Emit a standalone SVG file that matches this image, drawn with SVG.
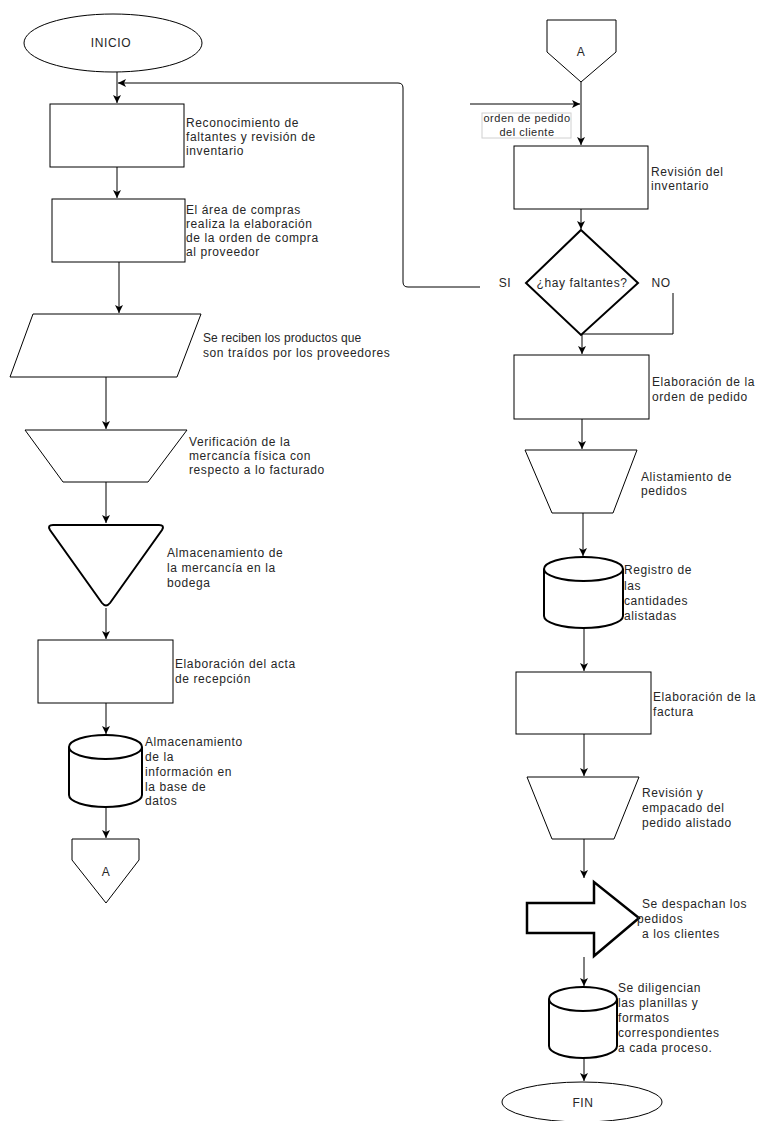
<svg xmlns="http://www.w3.org/2000/svg" width="757" height="1121" viewBox="0 0 757 1121">
<style>
.s{fill:#fff;stroke:#000;stroke-width:1}
.t{fill:#fff;stroke:#000;stroke-width:2}
.c{fill:none;stroke:#000;stroke-width:1}
text{font-family:"Liberation Sans",Arial,sans-serif;font-size:12px;fill:#262626;letter-spacing:0.6px}
.m{text-anchor:middle}
</style>
<defs>
<marker id="ah" markerUnits="userSpaceOnUse" markerWidth="10" markerHeight="10" refX="8" refY="4" orient="auto">
<path d="M0,0 L8,4 L0,8 L2,4 z" fill="#000"/>
</marker>
</defs>
<rect width="757" height="1121" fill="#fff"/>
<g id="connectors">
<path class="c" d="M117,72 V103" marker-end="url(#ah)"/>
<path class="c" d="M480,287 H408 Q403,287 403,282 V88 Q403,83 398,83 H118" marker-end="url(#ah)"/>
<path class="c" d="M117,167 V198" marker-end="url(#ah)"/>
<path class="c" d="M119,262 V313" marker-end="url(#ah)"/>
<path class="c" d="M106,377 V429" marker-end="url(#ah)"/>
<path class="c" d="M106,482 V523" marker-end="url(#ah)"/>
<path class="c" d="M106,608 V639" marker-end="url(#ah)"/>
<path class="c" d="M106,703 V734" marker-end="url(#ah)"/>
<path class="c" d="M106,807 V838" marker-end="url(#ah)"/>
<path class="c" d="M581,82 V145" marker-end="url(#ah)"/>
<path class="c" d="M470,104 H580" marker-end="url(#ah)"/>
<path class="c" d="M581,209 V229" marker-end="url(#ah)"/>
<path class="c" d="M673,293 V334 H581"/>
<path class="c" d="M582,335 V354" marker-end="url(#ah)"/>
<path class="c" d="M582,419 V449" marker-end="url(#ah)"/>
<path class="c" d="M583,513 V556" marker-end="url(#ah)"/>
<path class="c" d="M584,628 V671" marker-end="url(#ah)"/>
<path class="c" d="M584,734 V776" marker-end="url(#ah)"/>
<path class="c" d="M584,839 V878" marker-end="url(#ah)"/>
<path class="c" d="M584,957 V986" marker-end="url(#ah)"/>
<path class="c" d="M584,1058 V1081" marker-end="url(#ah)"/>
</g>
<g id="inicio">
<ellipse class="s" cx="113" cy="43" rx="89" ry="29"/>
<text class="m" x="111" y="47">INICIO</text>
</g>
<g id="reconocimiento">
<rect class="s" x="50" y="104" width="134" height="63"/>
<text x="186" y="127">Reconocimiento de</text>
<text x="186" y="141">faltantes y revisión de</text>
<text x="186" y="155">inventario</text>
</g>
<g id="orden-compra">
<rect class="s" x="52" y="199" width="133" height="63"/>
<text x="186" y="214">El área de compras</text>
<text x="186" y="228">realiza la elaboración</text>
<text x="186" y="242">de la orden de compra</text>
<text x="186" y="256">al proveedor</text>
</g>
<g id="recepcion-productos">
<path class="s" d="M33,314 L201,314 L177,377 L10,377 Z"/>
<text x="203" y="342" style="letter-spacing:0.1px">Se reciben los productos que</text>
<text x="203" y="357">son traídos por los proveedores</text>
</g>
<g id="verificacion">
<path class="s" d="M25,430 L187,430 L148,482 L63,482 Z"/>
<text x="189" y="446">Verificación de la</text>
<text x="189" y="460">mercancía física con</text>
<text x="189" y="474">respecto a lo facturado</text>
</g>
<g id="almacenamiento-mercancia">
<path class="t" d="M53,525 L159,525 Q165,525 162,530 L110,603 Q106,608 102,603 L50,530 Q47,525 53,525 Z"/>
<text x="167" y="557">Almacenamiento de</text>
<text x="167" y="572">la mercancía en la</text>
<text x="167" y="587">bodega</text>
</g>
<g id="acta-recepcion">
<rect class="s" x="38" y="640" width="135" height="63"/>
<text x="175" y="668">Elaboración del acta</text>
<text x="175" y="683">de recepción</text>
</g>
<g id="base-datos">
<path class="t" d="M69,747 A36.5,12 0 0 1 142,747 A36.5,12 0 0 1 69,747 L69,795 A36.5,12 0 0 0 142,795 L142,747"/>
<text x="145" y="746">Almacenamiento</text>
<text x="145" y="761">de la</text>
<text x="145" y="776">información en</text>
<text x="145" y="791">la base de</text>
<text x="145" y="805">datos</text>
</g>
<g id="conector-a-salida">
<path class="s" d="M72,839 L139,839 L139,860 L106,903 L72,860 Z"/>
<text class="m" x="106" y="876">A</text>
</g>
<g id="conector-a-entrada">
<path class="s" d="M547,20 L616,20 L616,52 L581,82 L547,52 Z"/>
<text class="m" x="581" y="56">A</text>
</g>
<g id="orden-pedido-cliente">
<rect x="482" y="113" width="89" height="25" fill="#fff" stroke="#d0d0d0" stroke-width="1"/>
<text class="m" x="527" y="122" style="font-size:11px;letter-spacing:0.5px">orden de pedido</text>
<text class="m" x="527" y="136" style="font-size:11px;letter-spacing:0.5px">del cliente</text>
</g>
<g id="revision-inventario">
<rect class="s" x="514" y="146" width="134" height="63"/>
<text x="651" y="176">Revisión del</text>
<text x="651" y="190">inventario</text>
</g>
<g id="hay-faltantes">
<path class="t" d="M581,230 L638,283 L581,335 L526,283 Z"/>
<text class="m" x="582" y="287">¿hay faltantes?</text>
<text class="m" x="505" y="287">SI</text>
<text class="m" x="661" y="287">NO</text>
</g>
<g id="orden-pedido">
<rect class="s" x="514" y="355" width="135" height="64"/>
<text x="652" y="386">Elaboración de la</text>
<text x="652" y="401">orden de pedido</text>
</g>
<g id="alistamiento">
<path class="s" d="M525,450 L637,450 L613,513 L552,513 Z"/>
<text x="641" y="481">Alistamiento de</text>
<text x="641" y="495">pedidos</text>
</g>
<g id="registro-cantidades">
<path class="t" d="M544,569 A39.5,12 0 0 1 623,569 A39.5,12 0 0 1 544,569 L544,616 A39.5,12 0 0 0 623,616 L623,569"/>
<text x="624" y="574">Registro de</text>
<text x="624" y="590">las</text>
<text x="624" y="605">cantidades</text>
<text x="624" y="620">alistadas</text>
</g>
<g id="factura">
<rect class="s" x="516" y="672" width="135" height="62"/>
<text x="653" y="701">Elaboración de la</text>
<text x="653" y="716">factura</text>
</g>
<g id="revision-empacado">
<path class="s" d="M527,777 L639,777 L614,839 L552,839 Z"/>
<text x="642" y="797">Revisión y</text>
<text x="642" y="812">empacado del</text>
<text x="642" y="827">pedido alistado</text>
</g>
<g id="despacho">
<path d="M527,903 L594,903 L594,882 L639,918 L594,956 L594,933 L527,933 Z" fill="#fff" stroke="#000" stroke-width="2.5"/>
<text x="642" y="908">Se despachan los</text>
<text x="637" y="923">pedidos</text>
<text x="642" y="938">a los clientes</text>
</g>
<g id="planillas">
<path class="t" d="M549,999 A34,12 0 0 1 617,999 A34,12 0 0 1 549,999 L549,1046 A34,12 0 0 0 617,1046 L617,999"/>
<text x="618" y="992">Se diligencian</text>
<text x="618" y="1007">las planillas y</text>
<text x="618" y="1022">formatos</text>
<text x="618" y="1037">correspondientes</text>
<text x="618" y="1052">a cada proceso.</text>
</g>
<g id="fin">
<ellipse class="s" cx="582" cy="1102" rx="80" ry="20"/>
<text class="m" x="583" y="1107">FIN</text>
</g>
</svg>
